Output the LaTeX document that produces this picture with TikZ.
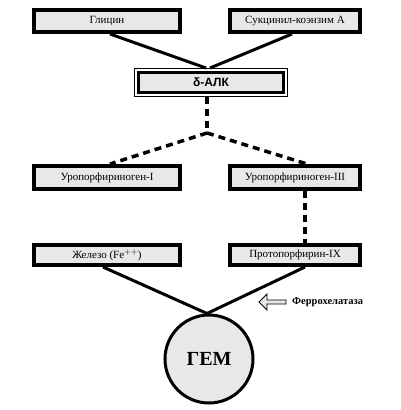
\documentclass[tikz,border=0pt]{standalone}
\usepackage{fontspec}
\setmainfont{Liberation Serif}
\newfontfamily\alksans{Liberation Sans}
\usetikzlibrary{shapes.arrows}
\definecolor{boxgray}{HTML}{E8E8E8}
\tikzset{
  stagebox/.style={draw=black, line width=4pt, fill=boxgray, inner sep=0pt,
    minimum height=22pt, font=\fontsize{11}{12}\selectfont},
  solidlink/.style={line width=3pt, draw=black},
  dashlink/.style={line width=3.5pt, draw=black, dash pattern=on 7pt off 5pt},
}
\begin{document}
\begin{tikzpicture}[x=1pt,y=-1pt]
\useasboundingbox (0,0) rectangle (401,410);
% top row
\node[stagebox, minimum width=146pt] (gly) at (107,21) {Глицин};
\node[stagebox, minimum width=130pt] (succ) at (295,21) {Сукцинил-коэнзим А};
% delta-ALA box with double border
\node[draw=black, line width=1pt, inner sep=0pt, minimum width=153pt, minimum height=28pt] (alkout) at (211,82.5) {};
\node[draw=black, line width=3pt, fill=boxgray, inner sep=0pt, minimum width=145pt, minimum height=20pt,
      font=\alksans\bfseries\fontsize{12}{13}\selectfont] (alk) at (211,82.5) {δ-АЛК};
\draw[solidlink] ([xshift=3pt]gly.south) -- ([xshift=-5pt]alkout.north);
\draw[solidlink] ([xshift=-3pt]succ.south) -- ([xshift=-1pt]alkout.north);
% uroporphyrinogens
\node[stagebox, minimum width=146pt, minimum height=23pt] (uro1) at (107,177.5) {Уропорфириноген-I};
\node[stagebox, minimum width=130pt, minimum height=23pt] (uro3) at (295,177.5) {Уропорфириноген-III};
\coordinate (fork) at (207,133);
\draw[dashlink] ([xshift=-4pt]alkout.south) -- (fork);
\draw[dashlink] (fork) -- ([xshift=3pt]uro1.north);
\draw[dashlink] (fork) -- ([xshift=12pt]uro3.north);
% bottom row
\node[stagebox, minimum width=146pt, minimum height=20pt] (iron) at (107,255) {Железо (Fe$^{++}$)};
\node[stagebox, minimum width=130pt, minimum height=20pt] (proto) at (295,255) {Протопорфирин-IX};
\draw[dashlink] ([xshift=10pt]uro3.south) -- ([xshift=10pt]proto.north);
% heme
\node[circle, draw=black, line width=3pt, fill=boxgray, minimum size=88pt, inner sep=0pt,
      font=\bfseries\fontsize{20}{22}\selectfont] (hem) at (209,359) {ГЕМ};
\draw[solidlink] ([xshift=-4pt]iron.south) -- ([xshift=-2pt]hem.north);
\draw[solidlink] ([xshift=10pt]proto.south) -- ([xshift=-2pt]hem.north);
% enzyme arrow
\node[single arrow, draw=black, line width=0.8pt, fill=boxgray, shape border rotate=180,
      minimum height=27pt, minimum width=16pt, single arrow head extend=4pt, inner sep=1pt] (enzarrow) at (273.5,302) {};
\node[anchor=west, font=\bfseries\fontsize{10.5}{12}\selectfont, inner sep=0pt] (enz) at (292,302) {Феррохелатаза};
\end{tikzpicture}
\end{document}
